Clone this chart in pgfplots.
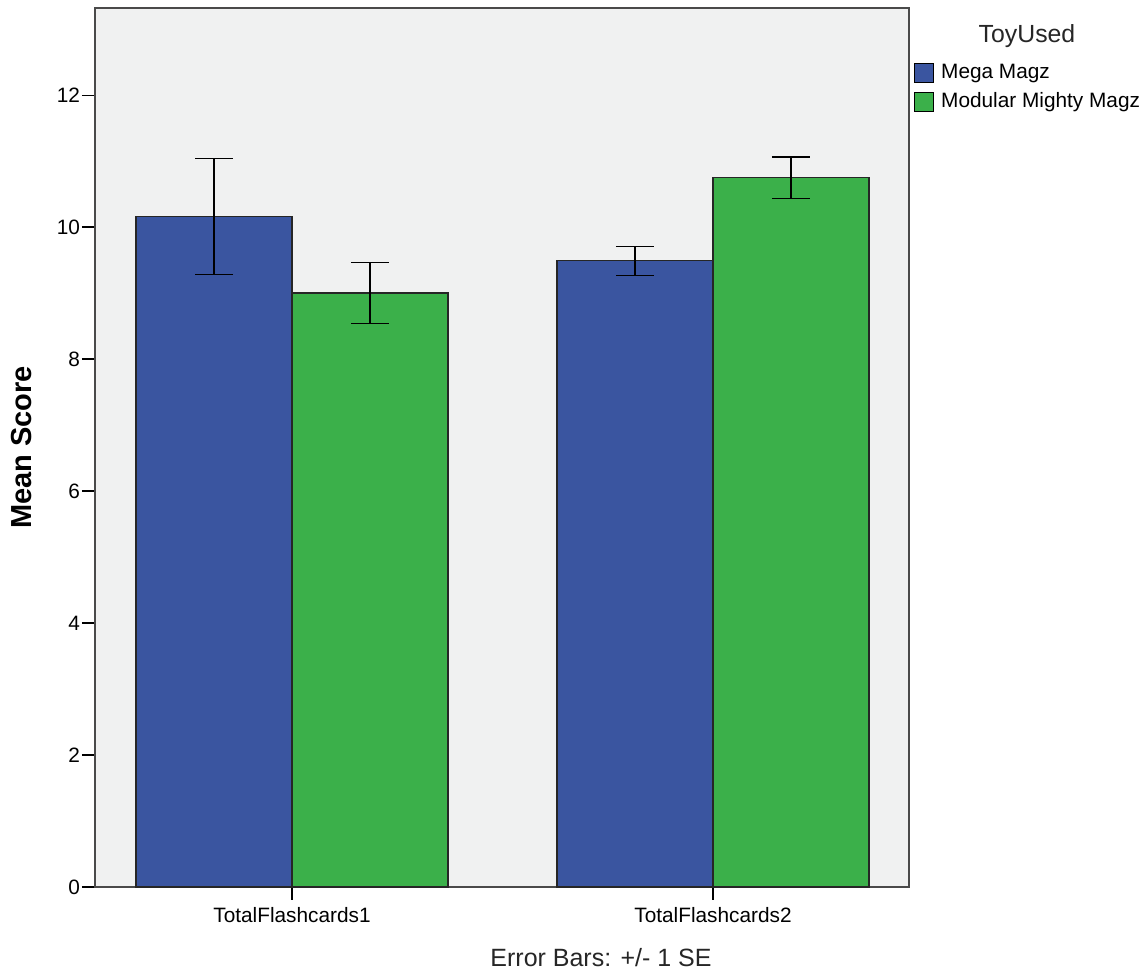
\documentclass[border=0pt]{standalone}
\usepackage{fontspec}
\setmainfont{Liberation Sans}
\usepackage{pgfplots}
\pgfplotsset{compat=1.18}
\usetikzlibrary{calc}

\definecolor{megablue}{HTML}{3A55A0}
\definecolor{modgreen}{HTML}{3BB04A}
\definecolor{plotbg}{HTML}{F0F1F1}
\definecolor{framegray}{HTML}{4A4A4A}

\newcommand{\tickfont}{\fontsize{10.4}{12}\selectfont}

\begin{document}
\begin{tikzpicture}
\begin{axis}[
    name=ax,
    scale only axis,
    width=407pt, height=439.5pt,
    xmin=-0.468, xmax=1.4656,
    ymin=0, ymax=13.32,
    ybar,
    bar width=0.3705,
    xtick={0,1},
    xticklabels={TotalFlashcards1,TotalFlashcards2},
    ytick={0,2,4,6,8,10,12},
    xtick pos=bottom, ytick pos=left,
    tick align=outside,
    major tick length=6.5pt,
    tick style={black, line width=0.6pt},
    tick label style={font=\tickfont},
    yticklabel style={xshift=2.5pt},
    /pgf/number format/assume math mode=true,
    axis background/.style={fill=plotbg},
    axis line style={draw=framegray, line width=0.7pt},
    ylabel={\bfseries Mean Score},
    ylabel style={font=\fontsize{14.5}{17}\selectfont, at={($(rel axis cs:0,0.5)+(-36.5pt,0pt)$)}, anchor=center},
    legend style={at={(rel axis cs:1,1)}, anchor=north west, xshift=2.5pt, yshift=-25.25pt,
        draw=none, fill=none, inner sep=0pt, outer sep=0pt, row sep=0pt,
        font=\tickfont,
        nodes={inner xsep=3.5pt, inner ysep=2.5pt, text height=7.5pt, text depth=2pt}},
    legend cell align=left,
    legend image code/.code={\draw[#1, draw=black] (0pt,-4.9pt) rectangle (9.5pt,4.9pt);},
    error bars/y dir=both,
    error bars/y explicit,
    error bars/error bar style={black, line width=0.7pt},
    error bars/error mark options={black, line width=0.7pt, mark size=9.5pt, rotate=90},
    clip=false,
]

\addplot[fill=megablue, draw=black!85, line width=0.6pt, bar shift=-0.18525]
    coordinates {
    (0,10.16) +- (0,0.875)
    (1,9.49)  +- (0,0.22)
    };
\addlegendentry{Mega Magz}

\addplot[fill=modgreen, draw=black!85, line width=0.6pt, bar shift=0.18525]
    coordinates {
    (0,9.00)  +- (0,0.46)
    (1,10.75) +- (0,0.315)
    };
\addlegendentry{Modular Mighty Magz}

% left axis line is drawn heavier in the original
\draw[framegray, line width=1.1pt] (rel axis cs:0,0) -- (rel axis cs:0,1);

\node[font=\fontsize{12.4}{14}\selectfont, anchor=base, text=black!85]
    at ($(rel axis cs:1,1)+(59pt,-17.5pt)$) {ToyUsed};
\node[font=\fontsize{12.5}{15}\selectfont, anchor=center, text=black!85]
    at ($(rel axis cs:0,0)+(253pt,-35.5pt)$) {Error Bars: +/- 1 SE};
\end{axis}
\path (ax.south west) ++(-47.5pt,-44pt) rectangle ++(573.5pt,487.5pt);
\end{tikzpicture}
\end{document}
